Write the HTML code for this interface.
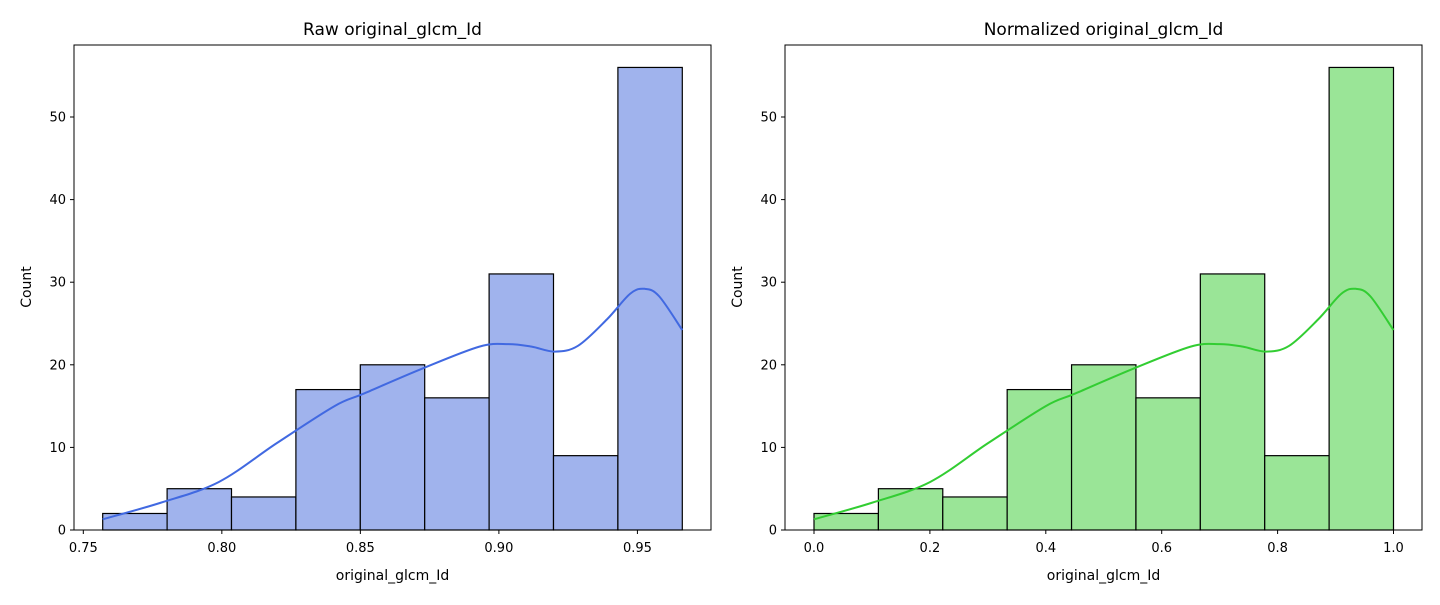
<!DOCTYPE html>
<html><head><meta charset="utf-8"><style>
body{margin:0;background:#fff;font-family:"Liberation Sans","DejaVu Sans",sans-serif}
svg text{font-family:"DejaVu Sans","Liberation Sans",sans-serif;fill:#000}
</style></head><body>
<svg id="c" width="1440" height="600"></svg>
<script>
const counts=[2,5,4,17,20,16,31,9,56];
const kdeT=[0,0.1,0.2,0.3,0.4,0.45,0.55,0.65,0.7,0.74,0.78,0.82,0.87,0.91,0.935,0.96,1.0];
const kdeV=[1.3,3.3,5.8,10.5,15,16.5,19.5,22.2,22.5,22.2,21.6,22.3,25.5,28.6,29.2,28.3,24.2];
const yTicks=[0,10,20,30,40,50];
const leftTicks=[0.75,0.80,0.85,0.90,0.95];
const rightTicks=[0.0,0.2,0.4,0.6,0.8,1.0];
const leftRange=[0.757,0.9662];
const rightRange=[0,1];
const NS="http://www.w3.org/2000/svg";
const svg=document.getElementById('c');
function mk(t,a,p){const e=document.createElementNS(NS,t);for(const k in a)e.setAttribute(k,a[k]);(p||svg).appendChild(e);return e;}
const y0=530,ppu=8.26;
function Y(v){return y0-v*ppu;}
function panel(ax0,ax1,d0,d1,xmin,xmax,ticks,fmt,fill,line,title,name){
  const g=mk('g',{});
  
  
  const X=v=>d0+(v-xmin)/(xmax-xmin)*(d1-d0);
  const n=counts.length,bw=(xmax-xmin)/n;
  counts.forEach((c,i)=>{const r=mk('rect',{x:X(xmin+i*bw),y:Y(c),width:X(xmin+(i+1)*bw)-X(xmin+i*bw),height:c*ppu,fill:fill,stroke:'#000','stroke-width':1.2},g);
    
    });
  const pts=kdeT.map((t,i)=>[X(xmin+t*(xmax-xmin)),Y(kdeV[i])]);
  let d='M'+pts[0].join(',');
  for(let i=0;i<pts.length-1;i++){const p0=pts[Math.max(0,i-1)],p1=pts[i],p2=pts[i+1],p3=pts[Math.min(pts.length-1,i+2)];
    d+=`C${p1[0]+(p2[0]-p0[0])/6},${p1[1]+(p2[1]-p0[1])/6} ${p2[0]-(p3[0]-p1[0])/6},${p2[1]-(p3[1]-p1[1])/6} ${p2[0]},${p2[1]}`;}
  const k=mk('path',{d:d,fill:'none',stroke:line,'stroke-width':2},g);
  
  
  mk('rect',{x:ax0,y:45,width:ax1-ax0,height:485,fill:'none',stroke:'#000','stroke-width':1},g);
  yTicks.forEach(v=>{mk('line',{x1:ax0-4,x2:ax0,y1:Y(v),y2:Y(v),stroke:'#000'},g);
    const t=mk('text',{x:ax0-8,y:Y(v)+4.5,'text-anchor':'end','font-size':13},g);t.textContent=v;
    
    });
  ticks.forEach(v=>{const x=X(v);mk('line',{x1:x,x2:x,y1:530,y2:534,stroke:'#000'},g);
    const t=mk('text',{x:x,y:552,'text-anchor':'middle','font-size':13},g);t.textContent=fmt(v);
    
    });
  const xl=mk('text',{x:(ax0+ax1)/2,y:580,'text-anchor':'middle','font-size':14},g);xl.textContent='original_glcm_Id';
  
  
  const yl=mk('text',{x:0,y:0,'text-anchor':'middle','font-size':14,transform:`translate(${ax0-43},287) rotate(-90)`},g);yl.textContent='Count';
  
  
  const tt=mk('text',{x:(ax0+ax1)/2,y:35,'text-anchor':'middle','font-size':17},g);tt.textContent=title;
  
  
}
panel(74,711,102.7,682.3,leftRange[0],leftRange[1],leftTicks,v=>v.toFixed(2),'#a0b3ed','#4169e1','Raw original_glcm_Id','raw-panel');
panel(785,1422,814,1393.5,rightRange[0],rightRange[1],rightTicks,v=>v.toFixed(1),'#9ae597','#32cd32','Normalized original_glcm_Id','normalized-panel');
</script>
</body></html>
